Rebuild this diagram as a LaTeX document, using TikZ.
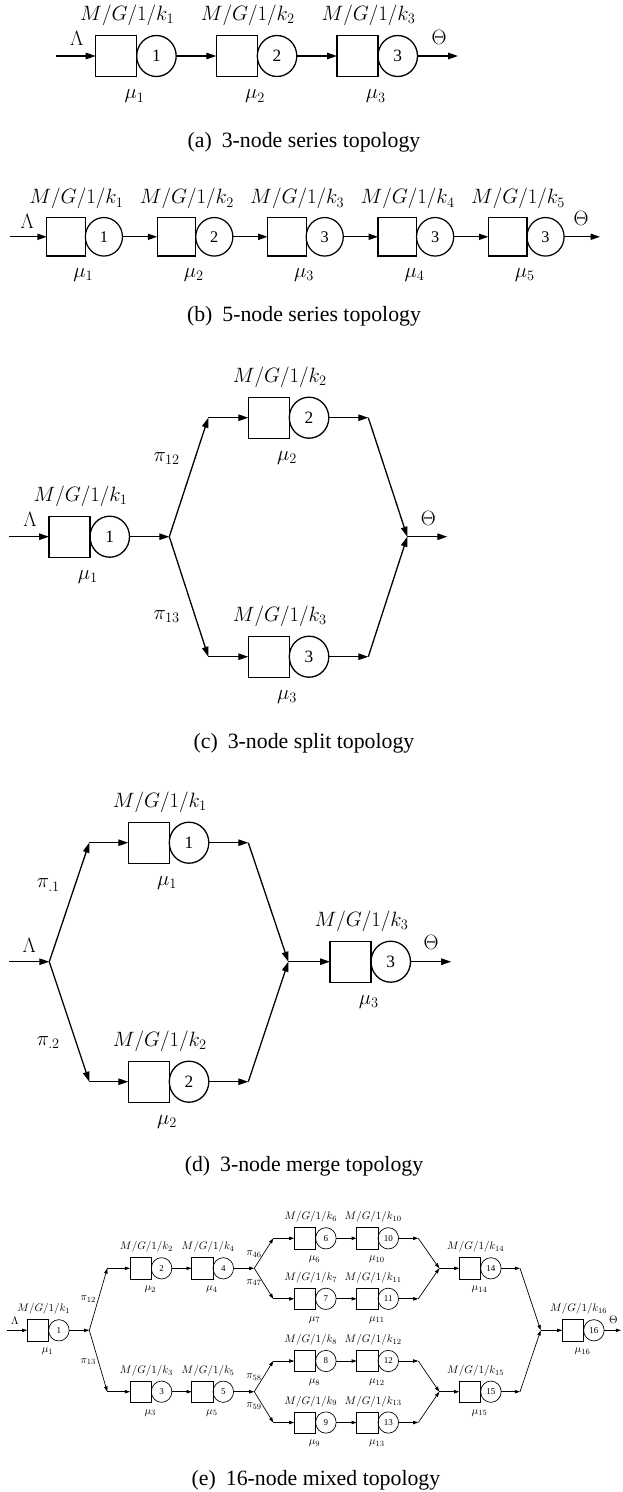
\documentclass[tikz,border=0pt]{standalone}
\usepackage{fontspec}
\newfontfamily\capfont{Liberation Serif}
\usetikzlibrary{arrows.meta,shapes.geometric}

% per-diagram scale: sizes of boxes, fonts, arrow tips and line widths
\newcommand\setdiag[1]{%
  \pgfmathsetmacro\sc{#1}%
  \pgfmathsetmacro\fsm{21.3*#1}%
  \pgfmathsetmacro\fsd{17.3*#1}%
  \pgfmathsetmacro\arl{10*#1}%
  \pgfmathsetmacro\arw{6.5*#1}%
  \pgfmathsetmacro\lw{1.3*#1}%
  \edef\next{\noexpand\tikzset{arr/.style={draw, line width=\lw pt,
      -{Triangle[length=\arl pt,width=\arw pt]}}}}\next
}

\tikzset{
  qbox/.style={draw, rectangle, minimum width=41pt*\sc, minimum height=41pt*\sc,
    inner sep=0pt, outer sep=0pt, line width=\lw pt},
  qsrv/.style={draw, ellipse, minimum width=39.5pt*\sc, minimum height=41pt*\sc,
    inner sep=0pt, outer sep=0pt, line width=\lw pt,
    font=\capfont\fontsize{\fsd}{\fsd}\selectfont},
  lbl/.style={inner sep=0pt, font=\fontsize{\fsm}{\fsm}\selectfont},
  captext/.style={inner sep=0pt, font=\capfont\fontsize{21.8}{24}\selectfont},
}

% one queue station: buffer box, server circle, capacity label and service rate
% #1 name, #2 x of the box's left side, #3 y, #4 server number, #5 k index, #6 mu index
\newcommand\qunit[6]{%
  \node[qbox, anchor=west] (#1q) at (#2,#3) {};
  \node[qsrv, anchor=west] (#1s) at (#1q.east) {#4};
  \node[lbl] (#1k) at ([shift={(31.5*\sc,-40.5*\sc)}]#1q.west) {$M/G/1/k_{#5}$};
  \node[lbl] (#1m) at ([shift={(38.8*\sc,40.5*\sc)}]#1q.west) {$\mu_{#6}$};
}

\begin{document}
\begin{tikzpicture}[x=1pt,y=-1pt]
\path[use as bounding box] (0,0) rectangle (622,1492);

% ---------------- (a) 3-node series ----------------
\setdiag{1}
\qunit{a1}{95.7}{56}{1}{1}{1}
\qunit{a2}{216.3}{56}{2}{2}{2}
\qunit{a3}{337}{56}{3}{3}{3}
\coordinate (ain) at (56,56);
\coordinate (aout) at (458,56);
\draw[arr] (ain) -- (a1q);
\draw[arr] (a1s) -- (a2q);
\draw[arr] (a2s) -- (a3q);
\draw[arr] (a3s) -- (aout);
\node[lbl] (aL) at (76.7,38.3) {$\Lambda$};
\node[lbl] (aT) at (439.2,37.3) {$\Theta$};
\node[captext] (acap) at (304,142) {(a)\hskip 10pt 3-node series topology};

% ---------------- (b) 5-node series ----------------
\setdiag{0.94}
\qunit{b1}{46.8}{236.8}{1}{1}{1}
\qunit{b2}{157.2}{236.8}{2}{2}{2}
\qunit{b3}{267.6}{236.8}{3}{3}{3}
\qunit{b4}{378}{236.8}{3}{4}{4}
\qunit{b5}{488.4}{236.8}{3}{5}{5}
\coordinate (bin) at (10,236.8);
\coordinate (bout) at (600,236.8);
\draw[arr] (bin) -- (b1q);
\draw[arr] (b1s) -- (b2q);
\draw[arr] (b2s) -- (b3q);
\draw[arr] (b3s) -- (b4q);
\draw[arr] (b4s) -- (b5q);
\draw[arr] (b5s) -- (bout);
\node[lbl] (bL) at (27.2,221.7) {$\Lambda$};
\node[lbl] (bT) at (581,218.3) {$\Theta$};
\node[captext] (bcap) at (304,316.7) {(b)\hskip 10pt 5-node series topology};

% ---------------- (c) 3-node split ----------------
\setdiag{1}
\qunit{c1}{49}{536.7}{1}{1}{1}
\qunit{c2}{248.3}{417.7}{2}{2}{2}
\qunit{c3}{248.3}{656.7}{3}{3}{3}
\coordinate (cin) at (9.3,536.7);
\coordinate (csp) at (169.3,536.7);
\coordinate (cu1) at (208.3,417.7);
\coordinate (cu2) at (368.3,417.7);
\coordinate (cl1) at (208.3,656.7);
\coordinate (cl2) at (368.3,656.7);
\coordinate (cmg) at (407.3,536.7);
\coordinate (cout) at (447.3,536.7);
\draw[arr] (cin) -- (c1q);
\draw[arr] (c1s) -- (csp);
\draw[arr] (csp) -- (cu1);
\draw[arr] (cu1) -- (c2q);
\draw[arr] (c2s) -- (cu2);
\draw[arr] (cu2) -- (cmg);
\draw[arr] (csp) -- (cl1);
\draw[arr] (cl1) -- (c3q);
\draw[arr] (c3s) -- (cl2);
\draw[arr] (cl2) -- (cmg);
\draw[arr] (cmg) -- (cout);
\node[lbl] (cL) at (30,519.3) {$\Lambda$};
\node[lbl] (cT) at (428.3,518.3) {$\Theta$};
\node[lbl] (cp12) at (166.7,458.3) {$\pi_{12}$};
\node[lbl] (cp13) at (166.7,616.7) {$\pi_{13}$};
\node[captext] (ccap) at (304,743.3) {(c)\hskip 10pt 3-node split topology};

% ---------------- (d) 3-node merge ----------------
\setdiag{1}
\qunit{d1}{128.3}{842.7}{1}{1}{1}
\qunit{d2}{128.3}{1081.7}{2}{2}{2}
\qunit{d3}{330}{961.7}{3}{3}{3}
\coordinate (din) at (9.3,961.7);
\coordinate (dsp) at (49.3,961.7);
\coordinate (du1) at (89.3,842.7);
\coordinate (du2) at (248.3,842.7);
\coordinate (dl1) at (89.3,1081.7);
\coordinate (dl2) at (248.3,1081.7);
\coordinate (dmg) at (288.3,961.7);
\coordinate (dout) at (451.2,961.7);
\draw[arr] (din) -- (dsp);
\draw[arr] (dsp) -- (du1);
\draw[arr] (du1) -- (d1q);
\draw[arr] (d1s) -- (du2);
\draw[arr] (du2) -- (dmg);
\draw[arr] (dsp) -- (dl1);
\draw[arr] (dl1) -- (d2q);
\draw[arr] (d2s) -- (dl2);
\draw[arr] (dl2) -- (dmg);
\draw[arr] (dmg) -- (d3q);
\draw[arr] (d3s) -- (dout);
\node[lbl] (dL) at (29.3,945) {$\Lambda$};
\node[lbl] (dT) at (431.2,942.7) {$\Theta$};
\node[lbl] (dp1) at (48.3,885) {$\pi_{.1}$};
\node[lbl] (dp2) at (48.3,1042.7) {$\pi_{.2}$};
\node[captext] (dcap) at (304,1166.7) {(d)\hskip 10pt 3-node merge topology};

% ---------------- (e) 16-node mixed ----------------
\setdiag{0.52}
\def\ra{1330.3}\def\rb{1268.3}\def\rc{1391.7}
\def\rf{1238.3}\def\rg{1298.8}\def\rh{1361}\def\ri{1422.5}
\qunit{e1}{27.3}{\ra}{1}{1}{1}
\qunit{e2}{130}{\rb}{2}{2}{2}
\qunit{e4}{191.7}{\rb}{4}{4}{4}
\qunit{e3}{130}{\rc}{3}{3}{3}
\qunit{e5}{191.7}{\rc}{5}{5}{5}
\qunit{e6}{294.3}{\rf}{6}{6}{6}
\qunit{e10}{356.7}{\rf}{10}{10}{10}
\qunit{e7}{294.3}{\rg}{7}{7}{7}
\qunit{e11}{356.7}{\rg}{11}{11}{11}
\qunit{e8}{294.3}{\rh}{8}{8}{8}
\qunit{e12}{356.7}{\rh}{12}{12}{12}
\qunit{e9}{294.3}{\ri}{9}{9}{9}
\qunit{e13}{356.7}{\ri}{13}{13}{13}
\qunit{e14}{459.3}{\rb}{14}{14}{14}
\qunit{e15}{459.3}{\rc}{15}{15}{15}
\qunit{e16}{562.3}{\ra}{16}{16}{16}
\coordinate (ein) at (6.7,\ra);
\coordinate (esp1) at (89.3,\ra);
\coordinate (eb2) at (107.3,\rb);
\coordinate (eb3) at (107.3,\rc);
\coordinate (esp2) at (254.3,\rb);
\coordinate (esp3) at (254.3,\rc);
\coordinate (eb6) at (273.3,\rf);
\coordinate (eb7) at (273.3,\rg);
\coordinate (eb8) at (273.3,\rh);
\coordinate (eb9) at (273.3,\ri);
\coordinate (ea10) at (418.3,\rf);
\coordinate (ea11) at (418.3,\rg);
\coordinate (ea12) at (418.3,\rh);
\coordinate (ea13) at (418.3,\ri);
\coordinate (emg2) at (439.3,\rb);
\coordinate (emg3) at (439.3,\rc);
\coordinate (ea14) at (520,\rb);
\coordinate (ea15) at (520,\rc);
\coordinate (emg1) at (540.7,\ra);
\coordinate (eout) at (621,\ra);
\draw[arr] (ein) -- (e1q);
\draw[arr] (e1s) -- (esp1);
\draw[arr] (esp1) -- (eb2);
\draw[arr] (eb2) -- (e2q);
\draw[arr] (e2s) -- (e4q);
\draw[arr] (e4s) -- (esp2);
\draw[arr] (esp1) -- (eb3);
\draw[arr] (eb3) -- (e3q);
\draw[arr] (e3s) -- (e5q);
\draw[arr] (e5s) -- (esp3);
\draw[arr] (esp2) -- (eb6);
\draw[arr] (eb6) -- (e6q);
\draw[arr] (e6s) -- (e10q);
\draw[arr] (e10s) -- (ea10);
\draw[arr] (ea10) -- (emg2);
\draw[arr] (esp2) -- (eb7);
\draw[arr] (eb7) -- (e7q);
\draw[arr] (e7s) -- (e11q);
\draw[arr] (e11s) -- (ea11);
\draw[arr] (ea11) -- (emg2);
\draw[arr] (esp3) -- (eb8);
\draw[arr] (eb8) -- (e8q);
\draw[arr] (e8s) -- (e12q);
\draw[arr] (e12s) -- (ea12);
\draw[arr] (ea12) -- (emg3);
\draw[arr] (esp3) -- (eb9);
\draw[arr] (eb9) -- (e9q);
\draw[arr] (e9s) -- (e13q);
\draw[arr] (e13s) -- (ea13);
\draw[arr] (ea13) -- (emg3);
\draw[arr] (emg2) -- (e14q);
\draw[arr] (e14s) -- (ea14);
\draw[arr] (ea14) -- (emg1);
\draw[arr] (emg3) -- (e15q);
\draw[arr] (e15s) -- (ea15);
\draw[arr] (ea15) -- (emg1);
\draw[arr] (emg1) -- (e16q);
\draw[arr] (e16s) -- (eout);
\node[lbl] (eL) at (15,1321) {$\Lambda$};
\node[lbl] (eT) at (613.3,1319.3) {$\Theta$};
\node[lbl] (ep12) at (88.3,1299.3) {$\pi_{12}$};
\node[lbl] (ep13) at (88.3,1361.7) {$\pi_{13}$};
\node[lbl] (ep46) at (254,1254.3) {$\pi_{46}$};
\node[lbl] (ep47) at (254,1282.7) {$\pi_{47}$};
\node[lbl] (ep58) at (254,1377.3) {$\pi_{58}$};
\node[lbl] (ep59) at (254,1406) {$\pi_{59}$};
\node[captext] (ecap) at (316,1480) {(e)\hskip 10pt 16-node mixed topology};
\end{tikzpicture}
\end{document}
